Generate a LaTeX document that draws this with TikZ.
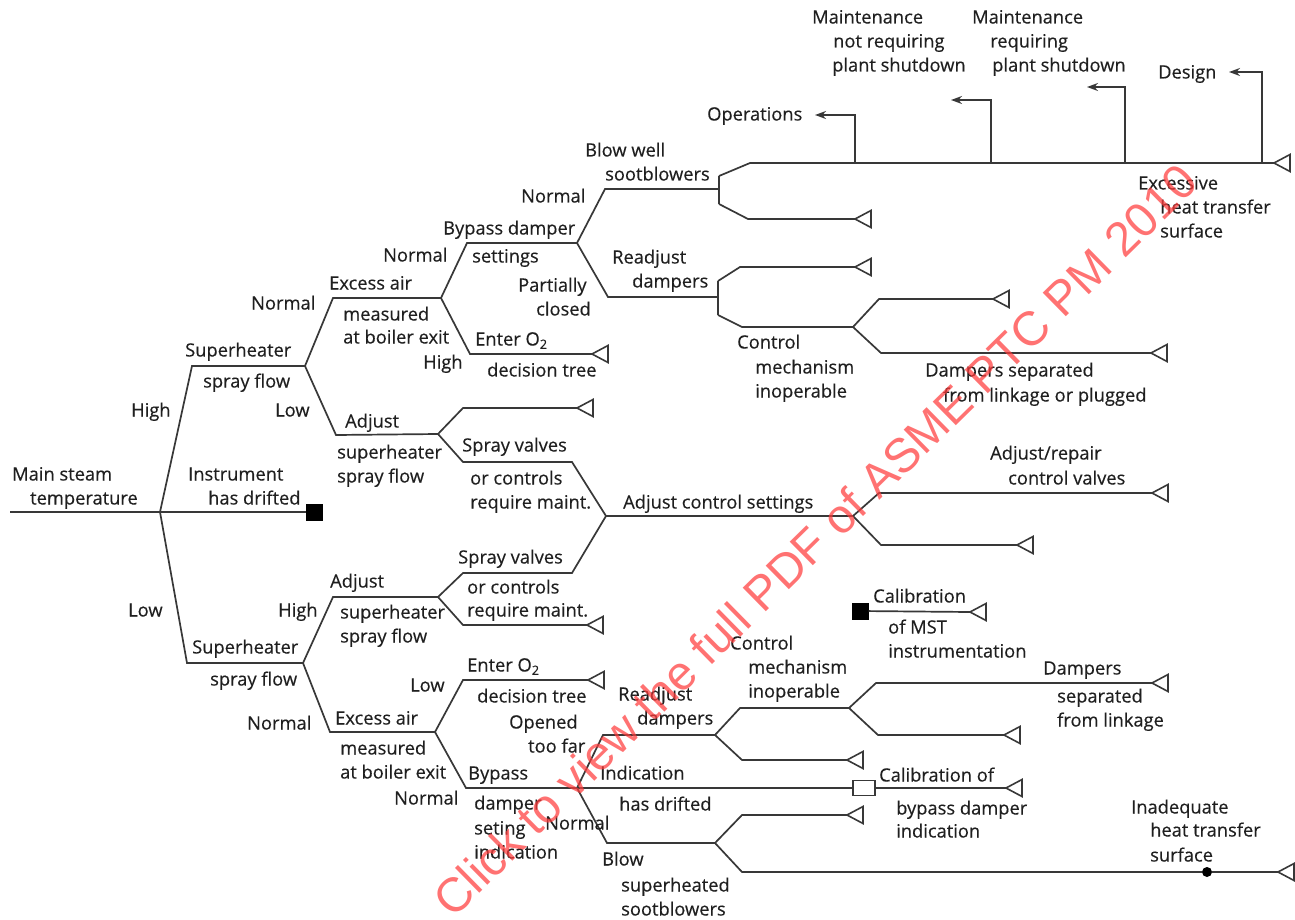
\documentclass[tikz,border=0pt]{standalone}
\usepackage{fontspec}
\setmainfont{Open Sans}[FakeBold=0.35]
\newfontfamily\wmfont{Liberation Sans}
\usetikzlibrary{arrows.meta}
\tikzset{
  ln/.style={line width=1.7pt, draw=black!78, line join=miter},
  lab/.style={font=\fontsize{18.3}{22}\selectfont, text=black!88, inner sep=0pt, text height=13pt, text depth=0pt, anchor=west},
  tri/.style={line width=1.6pt, draw=black!78, fill=white},
  fsq/.style={fill=black, minimum size=17pt, inner sep=0pt},
  osq/.style={draw=black!78, line width=1.4pt, fill=white, minimum width=22pt, minimum height=15pt, inner sep=0pt},
  dotn/.style={circle, fill=black, minimum size=10pt, inner sep=0pt},
  arr/.style={ln, -{Stealth[length=11pt,width=8pt]}},
  wm/.style={font=\wmfont\fontsize{48}{54}\selectfont, text={rgb,255:red,255;green,60;blue,60}, text opacity=0.72, inner sep=0pt}
}
\newcommand{\trimark}[1]{\draw[tri] (#1) -- ++(16,-8.5) -- ++(0,17) -- cycle;}
\newcommand{\lbl}[4]{\node[lab] (#1) at (#2,#3) {#4};}
\begin{document}
\begin{tikzpicture}[x=1pt,y=-1pt]
\useasboundingbox[fill=white] (0,0) rectangle (1295,920);
% ---------- root ----------
\coordinate (start) at (10,512);
\coordinate (r) at (160,512);
\coordinate (hA) at (192,366);
\coordinate (H) at (305,366);
\coordinate (lA) at (187,663);
\coordinate (L) at (303,663);
\node[fsq] (sqI) at (314.5,512) {};
\draw[ln] (start) -- (r);
\draw[ln] (r) -- (hA) -- (H);
\draw[ln] (r) -- (sqI);
\draw[ln] (r) -- (lA) -- (L);
% ---------- upper half ----------
\coordinate (Hn) at (333,298); \coordinate (EA1) at (441,298);
\coordinate (Hl) at (336,435); \coordinate (AS1) at (438,434);
\draw[ln] (H) -- (Hn) -- (EA1);
\draw[ln] (H) -- (Hl) -- (AS1);
\coordinate (EAn) at (467,243); \coordinate (BD) at (577,243);
\coordinate (EAh) at (470,354); \coordinate (t1) at (592,354);
\draw[ln] (EA1) -- (EAn) -- (BD);
\draw[ln] (EA1) -- (EAh) -- (t1);
\coordinate (BDn) at (605,189); \coordinate (BW) at (719,189);
\coordinate (BDp) at (608,297); \coordinate (RD1) at (718,297);
\draw[ln] (BD) -- (BDn) -- (BW);
\draw[ln] (BD) -- (BDp) -- (RD1);
\coordinate (BWu) at (719,176); \coordinate (BWd) at (719,204);
\coordinate (BWu2) at (750,163); \coordinate (BWd2) at (748,219);
\coordinate (t2) at (855,219); \coordinate (tTop) at (1274,163);
\draw[ln] (BWu) -- (BWd);
\draw[ln] (BWu) -- (BWu2) -- (tTop);
\draw[ln] (BWd) -- (BWd2) -- (t2);
\coordinate (o1) at (855,163); \coordinate (a1) at (815,115);
\coordinate (o2) at (991,163); \coordinate (a2) at (951,100);
\coordinate (o3) at (1125,163); \coordinate (a3) at (1087,87);
\coordinate (o4) at (1262,163); \coordinate (a4) at (1229,72);
\draw[arr] (o1) |- (a1);
\draw[arr] (o2) |- (a2);
\draw[arr] (o3) |- (a3);
\draw[arr] (o4) |- (a4);
\coordinate (RDu) at (718,281); \coordinate (RDd) at (718,315);
\coordinate (RDu2) at (740,267); \coordinate (t3) at (855,267);
\coordinate (RDd2) at (742,327); \coordinate (CM1) at (853,327);
\draw[ln] (RDu) -- (RDd);
\draw[ln] (RDu) -- (RDu2) -- (t3);
\draw[ln] (RDd) -- (RDd2) -- (CM1);
\coordinate (CMu) at (879,299); \coordinate (t4) at (993,299);
\coordinate (CMd) at (881,353); \coordinate (t5) at (1151,353);
\draw[ln] (CM1) -- (CMu) -- (t4);
\draw[ln] (CM1) -- (CMd) -- (t5);
\coordinate (ASu) at (463,408); \coordinate (t6) at (577,408);
\coordinate (ASd) at (463,462); \coordinate (SV1) at (572,462);
\coordinate (ACS) at (606,516);
\draw[ln] (AS1) -- (ASu) -- (t6);
\draw[ln] (AS1) -- (ASd) -- (SV1) -- (ACS);
% ---------- lower half ----------
\coordinate (Lh) at (333,597); \coordinate (AS2) at (438,597);
\coordinate (Ln) at (330,732); \coordinate (EA2) at (435,732);
\draw[ln] (L) -- (Lh) -- (AS2);
\draw[ln] (L) -- (Ln) -- (EA2);
\coordinate (AS2u) at (463,573); \coordinate (SV2) at (572,573);
\coordinate (AS2d) at (463,625); \coordinate (t7) at (587,625);
\draw[ln] (AS2) -- (AS2u) -- (SV2) -- (ACS);
\draw[ln] (AS2) -- (AS2d) -- (t7);
\coordinate (CS) at (853,516);
\draw[ln] (ACS) -- (CS);
\coordinate (CSu) at (879,493); \coordinate (t8) at (1152,493);
\coordinate (CSd) at (881,545); \coordinate (t9) at (1017,545);
\draw[ln] (CS) -- (CSu) -- (t8);
\draw[ln] (CS) -- (CSd) -- (t9);
\coordinate (EA2l) at (463,680); \coordinate (t10) at (588,680);
\coordinate (EA2n) at (466,788); \coordinate (BP) at (577,788);
\draw[ln] (EA2) -- (EA2l) -- (t10);
\draw[ln] (EA2) -- (EA2n) -- (BP);
\coordinate (BPo) at (603,735); \coordinate (RD2) at (715,735);
\node[osq] (sqO) at (864,788) {}; \coordinate (t11) at (1006,788);
\coordinate (BPn) at (607,843); \coordinate (BS) at (715,843);
\draw[ln] (BP) -- (BPo) -- (RD2);
\draw[ln] (BP) -- (sqO);
\draw[ln] (sqO) -- (t11);
\draw[ln] (BP) -- (BPn) -- (BS);
\coordinate (RD2u) at (740,708); \coordinate (CM2) at (849,708);
\coordinate (RD2d) at (742,760); \coordinate (t12) at (847,760);
\draw[ln] (RD2) -- (RD2u) -- (CM2);
\draw[ln] (RD2) -- (RD2d) -- (t12);
\coordinate (CM2u) at (876,683); \coordinate (t13) at (1152,683);
\coordinate (CM2d) at (878,735); \coordinate (t14) at (1004,735);
\draw[ln] (CM2) -- (CM2u) -- (t13);
\draw[ln] (CM2) -- (CM2d) -- (t14);
\coordinate (BSu) at (742,815); \coordinate (t15) at (847,815);
\coordinate (BSd) at (742,872); \node[dotn] (dot) at (1207,872) {};
\coordinate (t16) at (1278,872);
\draw[ln] (BS) -- (BSu) -- (t15);
\draw[ln] (BS) -- (BSd) -- (dot) -- (t16);
\node[fsq] (sqM) at (860,611) {}; \coordinate (t17) at (970,612);
\draw[ln] (sqM) -- (t17);
\foreach \t in {t1,t2,t3,t4,t5,t6,t7,t8,t9,t10,t11,t12,t13,t14,t15,t16,t17,tTop} {\trimark{\t}}
% ---------- labels ----------
\lbl{m1a}{812}{17}{Maintenance}
\lbl{m1b}{833}{41}{not requiring}
\lbl{m1c}{832}{65}{plant shutdown}
\lbl{m2a}{972}{17}{Maintenance}
\lbl{m2b}{990}{41}{requiring}
\lbl{m2c}{992}{65}{plant shutdown}
\lbl{des}{1158}{72}{Design}
\lbl{ops}{707}{114}{Operations}
\lbl{bw1}{585}{150}{Blow well}
\lbl{bw2}{605}{174}{sootblowers}
\lbl{nm1}{521}{196}{Normal}
\lbl{ex1}{1138}{183}{Excessive}
\lbl{ex2}{1160}{207}{heat transfer}
\lbl{ex3}{1160}{231}{surface}
\lbl{bd1}{443}{228}{Bypass damper}
\lbl{bd2}{472}{256}{settings}
\lbl{nm2}{383}{255}{Normal}
\lbl{ra1}{612}{257}{Readjust}
\lbl{ra2}{632}{281}{dampers}
\lbl{ea1}{329}{283}{Excess air}
\lbl{nm3}{251}{303}{Normal}
\lbl{pc1}{518}{285}{Partially}
\lbl{pc2}{536}{309}{closed}
\lbl{ea2}{343}{314}{measured}
\lbl{ea3}{343}{337}{at boiler exit}
\lbl{eo1}{475}{339}{Enter O\textsubscript{2}}
\lbl{sh1}{185}{350}{Superheater}
\lbl{hi1}{423}{362}{High}
\lbl{dt1}{487}{370}{decision tree}
\lbl{cm1}{737}{342}{Control}
\lbl{cm2}{755}{367}{mechanism}
\lbl{cm3}{755}{391}{inoperable}
\lbl{ds1}{925}{370}{Dampers separated}
\lbl{ds2}{943}{395}{from linkage or plugged}
\lbl{sh2}{203}{381}{spray flow}
\lbl{hi2}{131}{410}{High}
\lbl{lo1}{275}{410}{Low}
\lbl{as1}{345}{421}{Adjust}
\lbl{sv1}{462}{445}{Spray valves}
\lbl{as2}{337}{452}{superheater}
\lbl{ar1}{990}{453}{Adjust/repair}
\lbl{ms1}{12}{474}{Main steam}
\lbl{in1}{188}{474}{Instrument}
\lbl{sv2}{470}{478}{or controls}
\lbl{as3}{337}{476}{spray flow}
\lbl{ar2}{1008}{478}{control valves}
\lbl{ms2}{30}{498}{temperature}
\lbl{in2}{208}{498}{has drifted}
\lbl{sv3}{470}{502}{require maint.}
\lbl{acs}{623}{502}{Adjust control settings}
\lbl{sv4}{458}{557}{Spray valves}
\lbl{as4}{330}{581}{Adjust}
\lbl{sv5}{467}{587}{or controls}
\lbl{cb1}{873}{596}{Calibration}
\lbl{hi3}{278}{610}{High}
\lbl{as5}{340}{612}{superheater}
\lbl{lo2}{128}{610}{Low}
\lbl{sv6}{467}{610}{require maint.}
\lbl{cb2}{888}{627}{of MST}
\lbl{as6}{340}{636}{spray flow}
\lbl{cm4}{730}{643}{Control}
\lbl{sh3}{192}{647}{Superheater}
\lbl{cb3}{888}{651}{instrumentation}
\lbl{eo2}{467}{665}{Enter O\textsubscript{2}}
\lbl{cm5}{748}{667}{mechanism}
\lbl{dp1}{1043}{668}{Dampers}
\lbl{sh4}{210}{679}{spray flow}
\lbl{lo3}{410}{685}{Low}
\lbl{cm6}{748}{691}{inoperable}
\lbl{dt2}{477}{696}{decision tree}
\lbl{dp2}{1057}{696}{separated}
\lbl{ra3}{618}{694}{Readjust}
\lbl{ea4}{335}{718}{Excess air}
\lbl{op1}{509}{722}{Opened}
\lbl{nm4}{247}{723}{Normal}
\lbl{ra4}{637}{718}{dampers}
\lbl{dp3}{1057}{720}{from linkage}
\lbl{op2}{528}{746}{too far}
\lbl{ea5}{340}{748}{measured}
\lbl{bp1}{468}{773}{Bypass}
\lbl{id1}{600}{773}{Indication}
\lbl{cb4}{879}{775}{Calibration of}
\lbl{ea6}{340}{772}{at boiler exit}
\lbl{nm5}{394}{798}{Normal}
\lbl{bp2}{474}{803}{damper}
\lbl{id2}{619}{804}{has drifted}
\lbl{cb5}{896}{808}{bypass damper}
\lbl{ih1}{1131}{807}{Inadequate}
\lbl{nm6}{545}{823}{Normal}
\lbl{bp3}{474}{828}{seting}
\lbl{cb6}{896}{831}{indication}
\lbl{ih2}{1150}{830}{heat transfer}
\lbl{bp4}{474}{852}{indication}
\lbl{ih3}{1150}{855}{surface}
\lbl{bs1}{602}{859}{Blow}
\lbl{bs2}{621}{885}{superheated}
\lbl{bs3}{621}{909}{sootblowers}
% ---------- watermark ----------
\node[wm, rotate=44.5] (wmk) at (815,540) {Click to view the full PDF of ASME PTC PM 2010};
\end{tikzpicture}
\end{document}
